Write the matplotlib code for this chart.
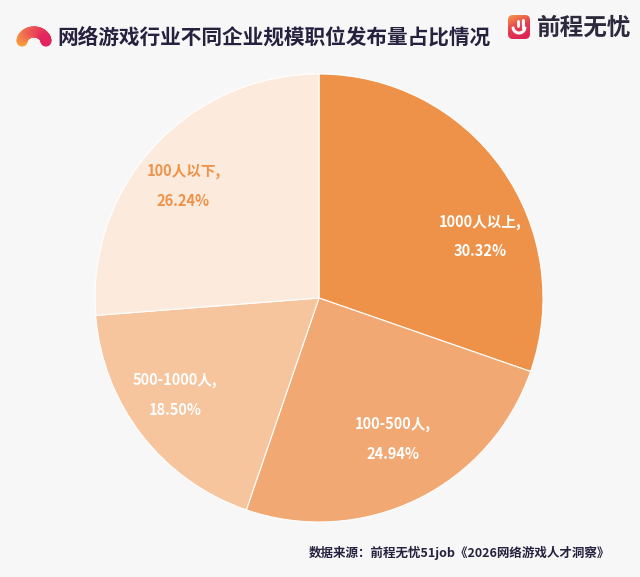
import numpy as np
import matplotlib.pyplot as plt
from matplotlib.collections import LineCollection
from matplotlib.patches import FancyBboxPatch
import matplotlib.colors as mcolors

plt.rcParams['font.family'] = ['Noto Sans CJK SC', 'DejaVu Sans']

# data
categories = ['1000人以上', '100-500人', '500-1000人', '100人以下']
shares = [30.32, 24.94, 18.50, 26.24]
colors = ['#EE9249', '#F2A872', '#F6C49D', '#FCEADC']
text_colors = ['white', 'white', 'white', '#EE9249']

title = '网络游戏行业不同企业规模职位发布量占比情况'
source = '数据来源：前程无忧51job《2026网络游戏人才洞察》'
brand = '前程无忧'

W, H = 640, 577
fig = plt.figure(figsize=(W / 100, H / 100), dpi=100)
fig.patch.set_facecolor('#F7F7F7')

# pie axes: center (319, 298), radius 224 px
cx, cy, r = 319, 298, 224
ax = fig.add_axes([(cx - r) / W, (H - cy - r) / H, 2 * r / W, 2 * r / H])
wedges, _ = ax.pie(shares, colors=colors, startangle=90, counterclock=False,
                   radius=1, wedgeprops=dict(edgecolor='white', linewidth=0.8))
ax.set_xlim(-1, 1)
ax.set_ylim(-1, 1)
ax.axis('off')

# label placement tweaks (angle offset deg, radius fraction)
label_tweak = [(-14.5, 0.77), (1.7, 0.71), (-3.8, 0.775), (3.2, 0.785)]
for w, cat, val, tc, (dt, rr) in zip(wedges, categories, shares, text_colors, label_tweak):
    theta = np.deg2rad((w.theta1 + w.theta2) / 2 + dt)
    x, y = rr * np.cos(theta), rr * np.sin(theta)
    ax.text(x, y + 0.066, cat + ',', ha='center', va='center', color=tc,
            fontsize=10.5, fontweight='bold')
    ax.text(x, y - 0.066, f'{val:.2f}%', ha='center', va='center', color=tc,
            fontsize=10.5, fontweight='bold')

# overlay axes in pixel coords for header/footer
ov = fig.add_axes([0, 0, 1, 1], zorder=5)
ov.set_xlim(0, W)
ov.set_ylim(H, 0)
ov.axis('off')

# left arch logo with gradient
t = np.linspace(np.pi * 0.97, np.pi * 0.03, 60)
ax_x = 34 + 12 * np.cos(t)
ax_y = 42 - 10 * np.sin(t)
pts = np.column_stack([ax_x, ax_y]).reshape(-1, 1, 2)
segs = np.concatenate([pts[:-1], pts[1:]], axis=1)
cmap = mcolors.LinearSegmentedColormap.from_list('arch', ['#F8A23E', '#EE5A55', '#E3245E'])
lc = LineCollection(segs, colors=cmap(np.linspace(0, 1, len(segs))),
                    linewidths=8, capstyle='round')
ov.add_collection(lc)

ov.text(57, 37, title, ha='left', va='center', fontsize=14.9, fontweight='bold',
        color='#27213F')

# right brand logo
icon = FancyBboxPatch((508, 15), 22, 24, boxstyle='round,pad=0,rounding_size=5',
                      facecolor='none', edgecolor='none')
ov.add_patch(icon)
grad = np.linspace(0, 1, 64).reshape(-1, 1) * np.ones((1, 64))
gcmap = mcolors.LinearSegmentedColormap.from_list('icon', ['#F39A45', '#E63B4E', '#D91E56'])
im = ov.imshow(grad + grad.T * 0.4, cmap=gcmap, extent=(508, 530, 39, 15), zorder=6,
               aspect='auto')
im.set_clip_path(icon)
hx = np.linspace(np.pi * 1.05, np.pi * 1.95, 30)
ov.plot(519 + 6 * np.cos(hx), 27 - 6 * np.sin(hx), color='white', lw=2.2,
        solid_capstyle='round', zorder=7)
ov.plot([522.5, 522.5], [20, 28], color='white', lw=2.2, solid_capstyle='round', zorder=7)
ov.plot([518, 518], [21, 26], color='white', lw=2.0, solid_capstyle='round', zorder=7)
ov.text(537, 28, brand, ha='left', va='center', fontsize=17, fontweight='bold',
        color='#2D2A3E')

ov.text(610, 553, source, ha='right', va='center', fontsize=9, fontweight='bold',
        color='#27213F')

fig.savefig('out.png', dpi=100, facecolor=fig.get_facecolor())
